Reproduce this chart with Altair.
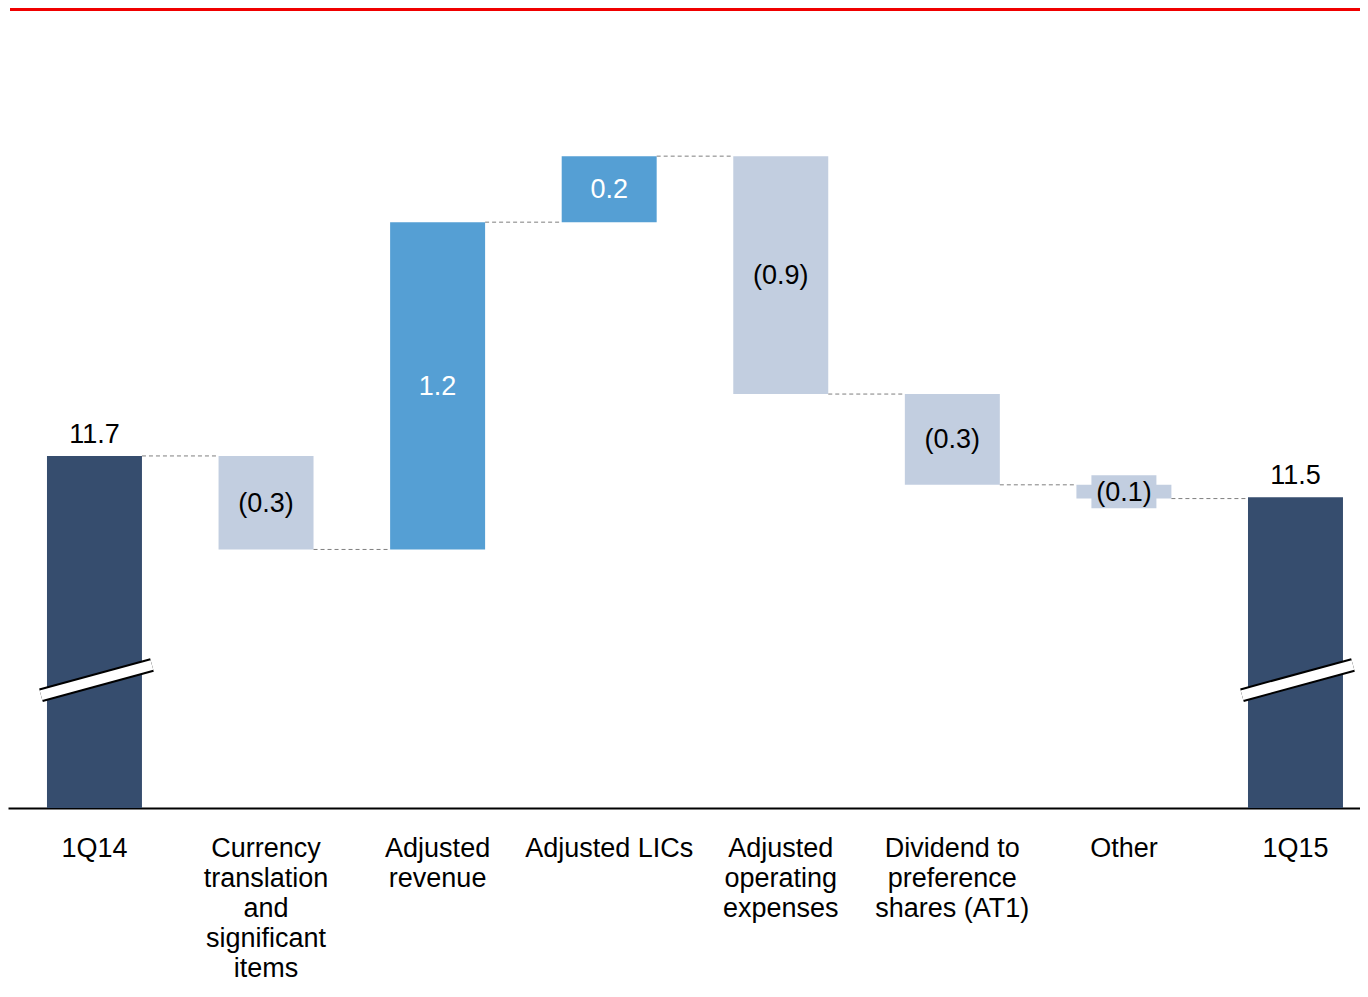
import altair as alt
import pandas as pd

# ---- data ----
categories = [
    "1Q14",
    "Currency\ntranslation\nand\nsignificant\nitems",
    "Adjusted\nrevenue",
    "Adjusted LICs",
    "Adjusted\noperating\nexpenses",
    "Dividend to\npreference\nshares (AT1)",
    "Other",
    "1Q15",
]
values = [11.70, -0.34, 1.19, 0.24, -0.865, -0.33, -0.05, 11.55]
is_total = [True, False, False, False, False, False, False, True]
value_labels = ["11.7", "(0.3)", "1.2", "0.2", "(0.9)", "(0.3)", "(0.1)", "11.5"]
boxed_label = [False, False, False, False, False, False, True, False]

# ---- broken axis settings (style constants) ----
AXIS_BASE = 10.42
AXIS_TOP = 13.325
BREAK_Y = (10.83, 10.94)

C_TOTAL = "#364D6E"
C_POS = "#559FD4"
C_NEG = "#C2CEE0"
FONT = "Liberation Sans"

rows = []
conn = []
level = None
for i, (c, v, t, lab, bx) in enumerate(zip(categories, values, is_total, value_labels, boxed_label)):
    if t:
        lo, hi = AXIS_BASE, v
        end = v
        color = C_TOTAL
        txtcol = "black"
    else:
        start = level
        end = level + v
        lo, hi = min(start, end), max(start, end)
        color = C_POS if v > 0 else C_NEG
        txtcol = "white" if v > 0 else "black"
    rows.append(dict(cat=c, lo=lo, hi=hi, mid=(lo + hi) / 2, label=lab,
                     color=color, txtcol=txtcol, total=t, boxed=bx))
    if i > 0:
        conn.append(dict(cat=categories[i - 1], nxt=c, level=level))
    level = end

df = pd.DataFrame(rows)
conn_df = pd.DataFrame(conn)
brk_df = pd.DataFrame([dict(cat=c, y0=BREAK_Y[0], y1=BREAK_Y[1])
                       for c, t in zip(categories, is_total) if t])

xscale = alt.Scale(domain=categories, paddingInner=0.4464, paddingOuter=0.1632, align=0.696)
yscale = alt.Scale(domain=[AXIS_BASE, AXIS_TOP], nice=False, zero=False)

xaxis = alt.Axis(
    title=None,
    labelExpr="split(datum.label, '\\n')",
    labelFontSize=27,
    labelFont=FONT,
    labelColor="black",
    labelLineHeight=30,
    labelPadding=27,
    labelLimit=400,
    labelAngle=0,
    labelBaseline="top",
    ticks=False,
    grid=False,
    domainColor="black",
    domainWidth=2,
)

base = alt.Chart(df)

bars = base.mark_bar().encode(
    x=alt.X("cat:N", scale=xscale, axis=xaxis),
    y=alt.Y("hi:Q", scale=yscale, axis=None),
    y2="lo:Q",
    color=alt.Color("color:N", scale=None),
)

connectors = alt.Chart(conn_df).mark_rule(
    color="#7F7F7F", strokeWidth=1, strokeDash=[4, 3]
).encode(
    x=alt.X("cat:N", scale=xscale, bandPosition=1),
    x2=alt.X2("nxt", bandPosition=0),
    y=alt.Y("level:Q", scale=yscale),
)


def brk(color, w):
    return alt.Chart(brk_df).mark_rule(
        color=color, strokeWidth=w, strokeCap="butt", xOffset=-6, x2Offset=10
    ).encode(
        x=alt.X("cat:N", scale=xscale, bandPosition=0),
        x2=alt.X2("cat", bandPosition=1),
        y=alt.Y("y0:Q", scale=yscale),
        y2="y1:Q",
    )


brk_black = brk("black", 14)
brk_white = brk("white", 10)

label_box = base.transform_filter("datum.boxed").mark_tick(
    size=65, thickness=33, opacity=1
).encode(
    x=alt.X("cat:N", scale=xscale),
    y=alt.Y("mid:Q", scale=yscale),
    color=alt.Color("color:N", scale=None),
)

total_text = base.transform_filter("datum.total").mark_text(
    font=FONT, fontSize=27, baseline="bottom", dy=-7, color="black"
).encode(
    x=alt.X("cat:N", scale=xscale),
    y=alt.Y("hi:Q", scale=yscale),
    text="label:N",
)

delta_text = base.transform_filter("!datum.total").mark_text(
    font=FONT, fontSize=27, baseline="middle", dy=1
).encode(
    x=alt.X("cat:N", scale=xscale),
    y=alt.Y("mid:Q", scale=yscale),
    text="label:N",
    color=alt.Color("txtcol:N", scale=None),
)

top_line = alt.Chart(df).mark_rule(color="#F00000", strokeWidth=3).encode(
    x=alt.value(2), x2=alt.value(1352), y=alt.value(0)
)

chart = alt.layer(
    bars, connectors, brk_black, brk_white, label_box, total_text, delta_text, top_line
).properties(
    width=1352,
    height=799,
    autosize=alt.AutoSizeParams(type="none"),
    padding={"left": 0, "top": 1, "right": 0, "bottom": 174},
).configure_view(stroke=None)

chart.save("out.html", embed_options={"renderer": "svg", "actions": False})
